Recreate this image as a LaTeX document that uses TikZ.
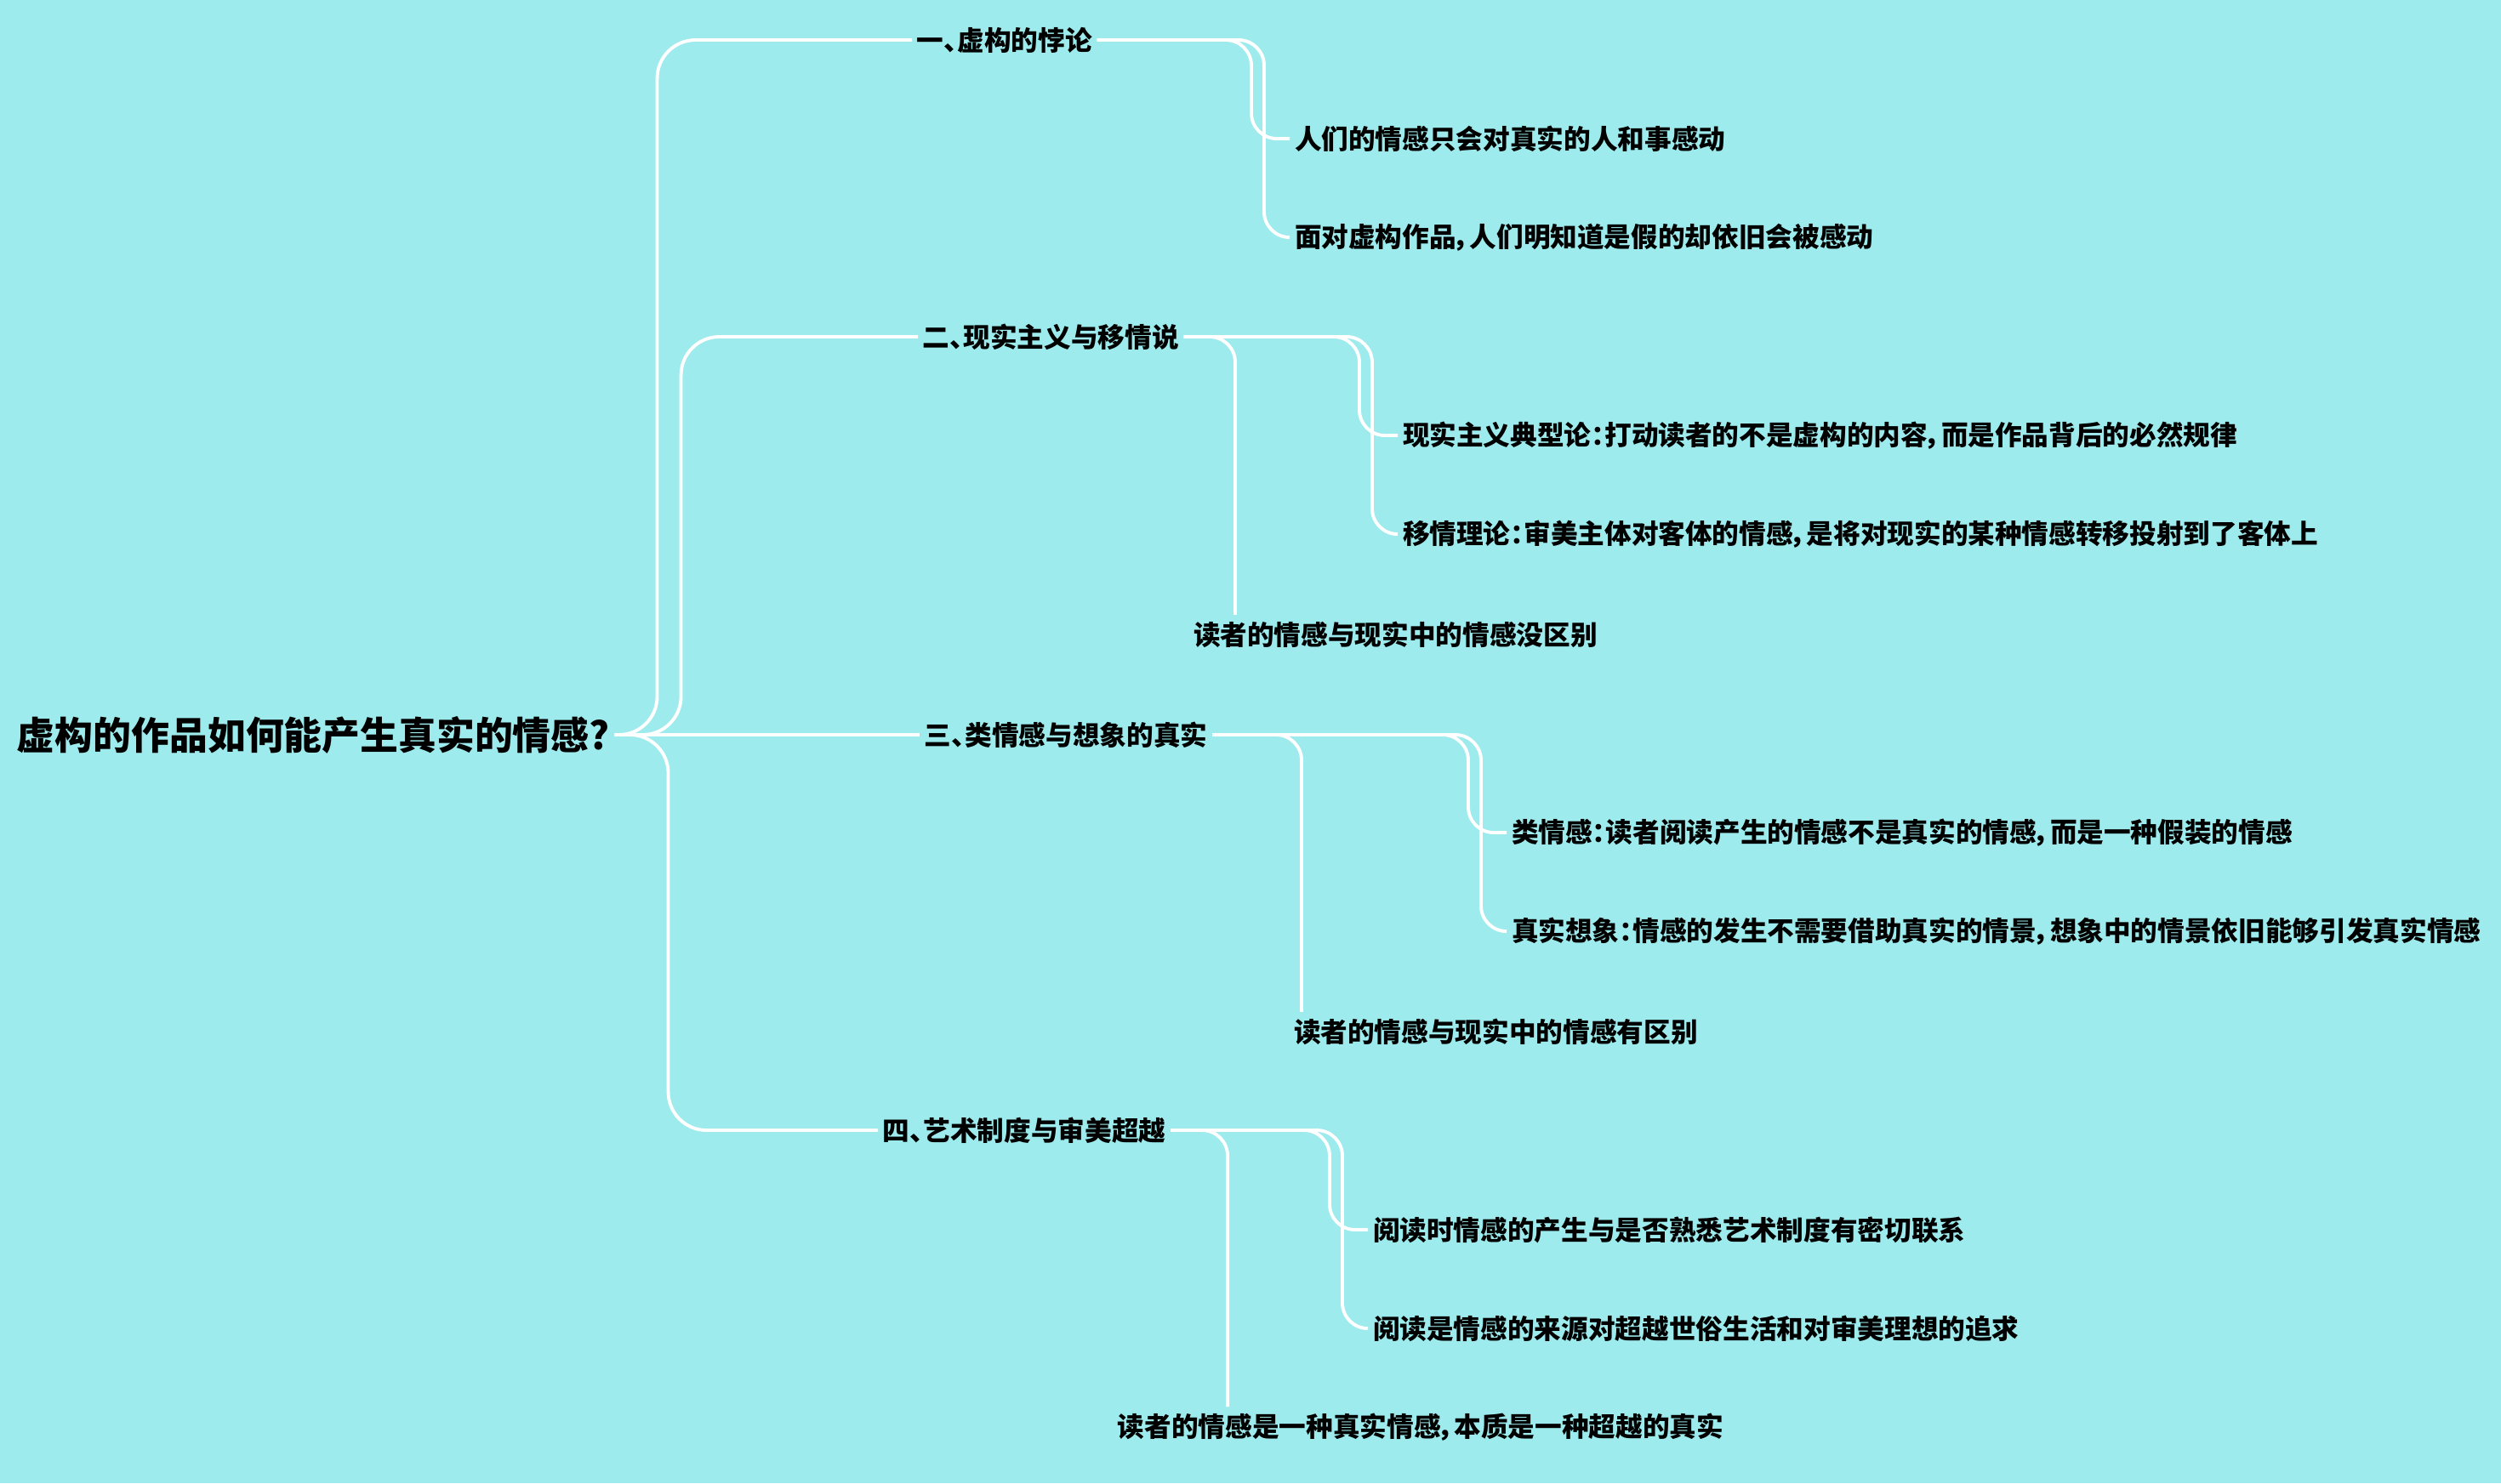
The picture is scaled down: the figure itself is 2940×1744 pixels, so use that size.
\documentclass[tikz,border=0pt]{standalone}
\usepackage{fontspec}
\setmainfont{Noto Sans CJK SC}[BoldFont={Noto Sans CJK SC Black}, RawFeature=+palt]
\usepackage{tikz}
\usetikzlibrary{positioning}
\definecolor{bgcyan}{RGB}{158,235,238}

\tikzset{
  topic/.style={anchor=west, inner xsep=1.5pt, inner ysep=2pt, text=black,
    font=\bfseries\fontsize{9pt}{11pt}\selectfont},
  roottopic/.style={topic, font=\bfseries\fontsize{12.75pt}{15pt}\selectfont},
  link/.style={draw=white, line width=1.1pt, rounded corners=0.3cm},
  rootlink/.style={link, rounded corners=0.45cm}
}

\begin{document}
\begin{tikzpicture}[x=0.01cm, y=-0.01cm, node distance=1.16cm]
  \fill[bgcyan] (0,0) rectangle (2940,1744);
  \useasboundingbox (0,0) rectangle (2940,1744);
  \node[roottopic] at (14,864)                      (root)
  {虚构的作品如何能产生真实的情感?};
  \node[topic] at (1072,47)                         (part 1)
  {一、虚构的悖论};
  \node[topic] at (1079,396)                        (part 2)
  {二、现实主义与移情说};
  \node[topic] at (1081,864)                        (part 3)
  {三、类情感与想象的真实};
  \node[topic] at (1032,1329)                       (part 4)
  {四、艺术制度与审美超越};

  \node[topic] at (1516,163)                        (item 1a)
  {人们的情感只会对真实的人和事感动};
  \node[topic, below=of item 1a.west, anchor=west]  (item 1b)
  {面对虚构作品，人们明知道是假的却依旧会被感动};

  \node[topic] at (1643,512)                        (item 2a)
  {现实主义典型论：打动读者的不是虚构的内容，而是作品背后的必然规律};
  \node[topic, below=of item 2a.west, anchor=west]  (item 2b)
  {移情理论：审美主体对客体的情感，是将对现实的某种情感转移投射到了客体上};
  \node[topic] at (1397,746)                        (item 2c)
  {读者的情感与现实中的情感没区别};

  \node[topic] at (1771,979)                        (item 3a)
  {类情感：读者阅读产生的情感不是真实的情感，而是一种假装的情感};
  \node[topic, below=of item 3a.west, anchor=west]  (item 3b)
  {真实想象：情感的发生不需要借助真实的情景，想象中的情景依旧能够引发真实情感};
  \node[topic] at (1515,1213)                       (item 3c)
  {读者的情感与现实中的情感有区别};

  \node[topic] at (1608,1446)                       (item 4a)
  {阅读时情感的产生与是否熟悉艺术制度有密切联系};
  \node[topic, below=of item 4a.west, anchor=west]  (item 4b)
  {阅读是情感的来源对超越世俗生活和对审美理想的追求};
  \node[topic] at (1308,1678)                       (item 4c)
  {读者的情感是一种真实情感，本质是一种超越的真实};

  \draw[rootlink] (root.east) -- ++(50,0) |- (part 1.west);
  \draw[rootlink] (root.east) -- ++(78,0) |- (part 2.west);
  \draw[rootlink] (root.east) -- (part 3.west);
  \draw[rootlink] (root.east) -- ++(63,0) |- (part 4.west);

  \draw[link] (part 1.east) -| ([xshift=-0.45cm]item 1a.west) -- (item 1a.west);
  \draw[link] (part 1.east) -| ([xshift=-0.3cm]item 1b.west) -- (item 1b.west);

  \draw[link] (part 2.east) -| ([xshift=-0.45cm]item 2a.west) -- (item 2a.west);
  \draw[link] (part 2.east) -| ([xshift=-0.3cm]item 2b.west) -- (item 2b.west);
  \draw[link] (part 2.east) -| ([xshift=0.55cm]item 2c.north west);

  \draw[link] (part 3.east) -| ([xshift=-0.45cm]item 3a.west) -- (item 3a.west);
  \draw[link] (part 3.east) -| ([xshift=-0.3cm]item 3b.west) -- (item 3b.west);
  \draw[link] (part 3.east) -| ([xshift=0.15cm]item 3c.north west);

  \draw[link] (part 4.east) -| ([xshift=-0.45cm]item 4a.west) -- (item 4a.west);
  \draw[link] (part 4.east) -| ([xshift=-0.3cm]item 4b.west) -- (item 4b.west);
  \draw[link] (part 4.east) -| ([xshift=1.35cm]item 4c.north west);
\end{tikzpicture}
\end{document}
